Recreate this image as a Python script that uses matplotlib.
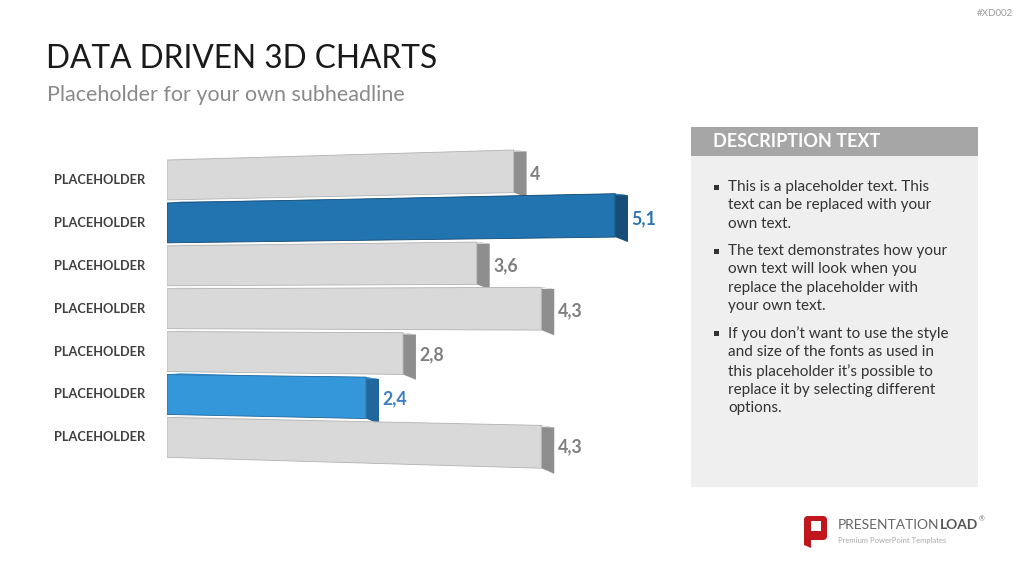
import matplotlib
matplotlib.use("Agg")
import matplotlib.pyplot as plt
from matplotlib.patches import Rectangle, Polygon, FancyBboxPatch

# ---------------- data ----------------
categories = ["PLACEHOLDER"] * 7
values = [4.0, 5.1, 3.6, 4.3, 2.8, 2.4, 4.3]
value_labels = ["4", "5,1", "3,6", "4,3", "2,8", "2,4", "4,3"]
highlight = [None, "dark", None, None, None, "light", None]

title = "DATA DRIVEN 3D CHARTS"
subtitle = "Placeholder for your own subheadline"
desc_title = "DESCRIPTION TEXT"
bullets = [
    "This is a placeholder text. This\ntext can be replaced with your\nown text.",
    "The text demonstrates how your\nown text will look when you\nreplace the placeholder with\nyour own text.",
    "If you don\u2019t want to use the style\nand size of the fonts as used in\nthis placeholder it\u2019s possible to\nreplace it by selecting different\noptions.",
]

# ---------------- styles ----------------
FONT = "Lato"
STY = {
    None: dict(front="#d9d9d9", side="#8e8e8e", edge="#b3b3b3", top="#ececec", label="#7f7f7f"),
    "dark": dict(front="#2174b0", side="#174d76", edge="#164a73", top="#2a7cb8", label="#2e74b5"),
    "light": dict(front="#3497da", side="#22669c", edge="#21659b", top="#3b9de0", label="#3d7ec0"),
}

fig = plt.figure(figsize=(10.24, 5.76), dpi=100)
fig.patch.set_facecolor("white")
renderer = fig.canvas.get_renderer()

# overlay in pixel coordinates for slide decoration
bg = fig.add_axes([0, 0, 1, 1])
bg.set_xlim(0, 1024)
bg.set_ylim(576, 0)
bg.axis("off")


def fit_width(t, target_px):
    w = t.get_window_extent(renderer).width
    t.set_fontsize(t.get_fontsize() * target_px / w)
    return t


def width_of(t):
    return t.get_window_extent(renderer).width


bg.text(1013, 13, "#XD002", ha="right", va="center", fontsize=7, color="#9a9a9a", family=FONT)
fit_width(bg.text(46, 59, title, ha="left", va="center", fontsize=24, color="#1a1a1a",
                  family=FONT, fontweight="normal"), 391)
fit_width(bg.text(47, 95, subtitle, ha="left", va="center", fontsize=15, color="#8a8a8a",
                  family=FONT), 357)

# description box
bg.add_patch(Rectangle((691, 127), 287, 29, facecolor="#a6a6a6", edgecolor="none"))
bg.add_patch(Rectangle((691, 156), 287, 331, facecolor="#efefef", edgecolor="none"))
bg.text(713, 141.5, desc_title, ha="left", va="center", fontsize=13, fontweight="bold",
        color="white", family=FONT)
para_y = [180, 244, 326]
for py, txt in zip(para_y, bullets):
    bg.add_patch(Rectangle((714, py + 5), 5, 5, facecolor="#333333", edgecolor="none"))
    bg.text(728, py, txt, ha="left", va="top", fontsize=11, color="#333333",
            family=FONT, linespacing=1.39)

# logo
bg.add_patch(FancyBboxPatch((804, 516), 23, 24, boxstyle="round,pad=0,rounding_size=4",
                            facecolor="#c0161e", edgecolor="none"))
bg.add_patch(Polygon([(804, 530), (811, 540), (811, 548), (804, 545)], closed=True,
                     facecolor="#c0161e", edgecolor="none"))
bg.add_patch(Rectangle((811, 521), 10, 10, facecolor="white", edgecolor="none"))
t1 = bg.text(838, 525, "PRESENTATION", ha="left", va="center", fontsize=11, color="#666666",
             family=FONT)
t2 = bg.text(838, 525, "LOAD", ha="left", va="center", fontsize=11, color="#555555",
             family=FONT, fontweight="bold")
total = width_of(t1) + width_of(t2)
fs = 11 * 140 / total
t1.set_fontsize(fs)
t2.set_fontsize(fs)
t2.set_x(838 + width_of(t1))
bg.text(838 + width_of(t1) + width_of(t2) + 1, 519, "\u00ae", ha="left", va="center",
        fontsize=5, color="#777777", family=FONT)
bg.text(838, 540, "Premium PowerPoint Templates", ha="left", va="center", fontsize=5.5,
        color="#aaaaaa", family=FONT)

# ---------------- chart ----------------
BASE = 0.24          # hidden floor of the 3D scene (value where bars visually begin)
PX_PER_UNIT = 92.2
AX_L, AX_R, AX_T, AX_B = 167, 680, 140, 480
ROW0_PX, ROW_PITCH = 180, 42.9
ax = fig.add_axes([AX_L / 1024, 1 - AX_B / 576, (AX_R - AX_L) / 1024, (AX_B - AX_T) / 576])
ax.set_xlim(BASE, BASE + (AX_R - AX_L) / PX_PER_UNIT)
ax.set_ylim((AX_B - ROW0_PX) / ROW_PITCH, -(ROW0_PX - AX_T) / ROW_PITCH)
ax.axis("off")
ax.patch.set_alpha(0)

K = 0.018            # perspective spread
YC = 3.0
H = 0.93
DEPTH_X = 0.14
DEPTH_Y = 0.12


def persp(x, y):
    return YC + (y - YC) * (1 + K * (x - BASE))


for i, (v, hl) in enumerate(zip(values, highlight)):
    s = STY[hl]
    top, bot = i - H / 2, i + H / 2
    x0, x1 = BASE, v
    xb = x1 + DEPTH_X
    # side face (extrusion)
    side = [(x1, persp(x1, top)), (xb, persp(xb, top) + DEPTH_Y * 0.35),
            (xb, persp(xb, bot) + DEPTH_Y), (x1, persp(x1, bot))]
    ax.add_patch(Polygon(side, closed=True, facecolor=s["side"], edgecolor="none", zorder=2 + i))
    # thin top face
    topf = [(x0, persp(x0, top)), (x1, persp(x1, top)),
            (xb, persp(xb, top) + DEPTH_Y * 0.35), (x0 + DEPTH_X, persp(x0, top) - 0.03)]
    ax.add_patch(Polygon(topf, closed=True, facecolor=s["top"], edgecolor="none", zorder=2 + i))
    # front face
    front = [(x0, persp(x0, top)), (x1, persp(x1, top)), (x1, persp(x1, bot)), (x0, persp(x0, bot))]
    ax.add_patch(Polygon(front, closed=True, facecolor=s["front"], edgecolor=s["edge"],
                         linewidth=0.6, zorder=2 + i))
    # value label
    lx = xb + 0.04
    ax.text(lx, persp(lx, i) + 0.09 - 0.015 * i, value_labels[i], ha="left", va="center",
            fontsize=12.8, fontweight="bold", color=s["label"], family=FONT, zorder=20)
    # category label
    ax.text(BASE - 113 / PX_PER_UNIT, i, categories[i], ha="left", va="center", fontsize=9.2,
            fontweight="bold", color="#404040", family=FONT)

fig.savefig("out.png", dpi=100, facecolor="white")
